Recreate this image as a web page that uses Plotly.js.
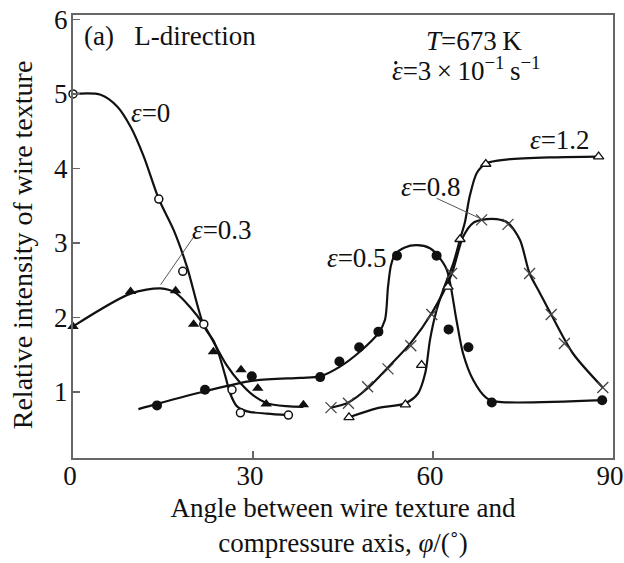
<!DOCTYPE html>
<html>
<head>
<meta charset="utf-8">
<script src="https://cdn.plot.ly/plotly-3.0.1.min.js"></script>
<style>html,body{margin:0;padding:0;background:#fff;}#chart{width:624px;height:563px;}</style>
</head>
<body>
<div id="chart"></div>
<script>
// ---- Data ----
// eps = 0 (open circles)
const e0X = [0, 14.3, 18.3, 21.8, 26.5, 27.9, 35.9];
const e0Y = [5.0, 3.59, 2.62, 1.91, 1.03, 0.72, 0.69];
const e0CurveX = [0, 4.6, 7.4, 9.6, 11.8, 14.3, 16.8, 19.0, 21.8, 23.4, 24.3, 25.4, 26.2, 27.3, 29.0, 32.3, 35.9];
const e0CurveY = [5.0, 4.99, 4.83, 4.56, 4.16, 3.59, 3.17, 2.68, 1.89, 1.69, 1.51, 1.21, 0.98, 0.81, 0.74, 0.71, 0.69];

// eps = 0.3 (filled triangles)
const e03X = [0, 9.6, 17.1, 20.1, 23.4, 28.0, 30.8, 32.2, 38.4];
const e03Y = [1.88, 2.35, 2.36, 1.91, 1.54, 1.30, 1.05, 0.84, 0.83];
const e03CurveX = [0, 9.6, 14.6, 17.1, 19.5, 21.8, 23.7, 25.6, 27.9, 30.1, 32.3, 35.6, 38.4];
const e03CurveY = [1.88, 2.32, 2.39, 2.33, 2.14, 1.90, 1.63, 1.36, 1.12, 0.95, 0.85, 0.81, 0.80];

// eps = 0.5 (filled circles)
const e05X = [14.0, 22.0, 29.8, 41.2, 44.4, 47.7, 50.9, 54.0, 60.6, 62.6, 65.9, 69.8, 88.2];
const e05Y = [0.82, 1.03, 1.21, 1.20, 1.41, 1.60, 1.81, 2.83, 2.83, 1.84, 1.60, 0.86, 0.89];
const e05CurveX = [10.9, 14.0, 22.0, 29.8, 37.9, 41.2, 44.5, 47.8, 50.9, 52.0, 52.5, 53.0, 53.7, 55.3, 57.3, 59.5, 60.6, 62.3, 63.9, 65.0, 66.7, 68.9, 70.6, 88.3];
const e05CurveY = [0.77, 0.84, 1.01, 1.15, 1.19, 1.21, 1.34, 1.54, 1.79, 1.97, 2.41, 2.70, 2.85, 2.94, 2.97, 2.93, 2.85, 2.64, 1.97, 1.52, 1.16, 0.92, 0.87, 0.89];

// eps = 0.8 (crosses)
const e08X = [43.0, 45.9, 49.1, 52.5, 56.3, 59.8, 63.1, 68.1, 72.5, 76.1, 79.7, 81.9, 88.3];
const e08Y = [0.79, 0.85, 1.07, 1.31, 1.62, 2.04, 2.59, 3.31, 3.25, 2.59, 2.04, 1.65, 1.06];
const e08CurveX = [43.0, 45.9, 49.1, 52.5, 56.3, 59.8, 63.1, 65.0, 66.7, 68.1, 70.6, 72.5, 74.5, 76.1, 77.8, 79.7, 83.3, 88.3];
const e08CurveY = [0.79, 0.86, 1.05, 1.33, 1.66, 2.06, 2.58, 3.08, 3.27, 3.31, 3.32, 3.27, 3.04, 2.59, 2.33, 2.04, 1.52, 1.06];

// eps = 1.2 (open triangles)
const e12X = [46.0, 55.4, 58.1, 62.5, 64.5, 68.8, 87.6];
const e12Y = [0.66, 0.83, 1.36, 2.41, 3.05, 4.06, 4.16];
const e12CurveX = [46.0, 50.6, 55.4, 57.5, 58.7, 59.5, 60.6, 61.7, 63.4, 64.5, 65.3, 66.1, 67.3, 68.9, 72.2, 80.0, 87.6];
const e12CurveY = [0.66, 0.78, 0.85, 0.98, 1.25, 1.70, 2.10, 2.37, 2.73, 3.05, 3.27, 3.62, 3.94, 4.07, 4.12, 4.15, 4.16];

const xTicks = [0, 30, 60, 90];
const yTicks = [1, 2, 3, 4, 5, 6];

// ---- Plot ----
const FONT = '"Liberation Serif", "Times New Roman", serif';
const curveLine = {color: '#111', width: 2.2, shape: 'spline', smoothing: 0.8};

function curve(x, y) {
  return {x: x, y: y, mode: 'lines', line: curveLine, hoverinfo: 'skip', showlegend: false};
}
function pts(x, y, marker) {
  return {x: x, y: y, mode: 'markers', marker: marker, cliponaxis: false, showlegend: false};
}

const traces = [
  curve(e0CurveX, e0CurveY),
  curve(e03CurveX, e03CurveY),
  curve(e05CurveX, e05CurveY),
  curve(e08CurveX, e08CurveY),
  curve(e12CurveX, e12CurveY),
  pts(e0X, e0Y, {symbol: 'circle', size: 8, color: '#fff', line: {color: '#111', width: 1.5}}),
  pts(e03X, e03Y, {symbol: 'triangle-up', size: 10, color: '#111', line: {width: 0}}),
  pts(e05X, e05Y, {symbol: 'circle', size: 10, color: '#111', line: {width: 0}}),
  pts(e08X, e08Y, {symbol: 'x-thin', size: 11, color: '#333', line: {color: '#444', width: 1.3}}),
  pts(e12X, e12Y, {symbol: 'triangle-up', size: 9, color: '#fff', line: {color: '#111', width: 1.3}})
];

const aFont = {family: FONT, size: 27, color: '#111'};
function lab(x, y, text) {
  return {x: x, y: y, text: text, showarrow: false, font: aFont, xanchor: 'center', yanchor: 'middle'};
}
const annotations = [
  {x: 0.017, y: 0.992, xref: 'paper', yref: 'paper', xanchor: 'left', yanchor: 'top',
   text: '(a)\u00a0\u00a0\u00a0L-direction', showarrow: false, font: aFont},
  lab(12.9, 4.74, '<i>ε</i>=0'),
  lab(24.9, 3.17, '<i>ε</i>=0.3'),
  lab(47.4, 2.80, '<i>ε</i>=0.5'),
  lab(59.6, 3.75, '<i>ε</i>=0.8'),
  lab(81.2, 4.38, '<i>ε</i>=1.2'),
  lab(66.9, 5.71, '<i>T</i>=673\u2009K'),
  lab(65.5, 5.34, '<i>ε</i>=3\u2009\u00d7\u200910<sup>\u22121</sup>\u2009s<sup>\u22121</sup>'),
  // y-axis title
  {x: -0.092, y: 0.481, xref: 'paper', yref: 'paper', xanchor: 'center', yanchor: 'middle',
   textangle: -90, text: 'Relative intensity of wire texture', showarrow: false,
   font: {family: FONT, size: 28, color: '#111'}}
];

const shapes = [
  {type: 'line', xref: 'x', yref: 'y', x0: 14.6, y0: 2.44, x1: 20.1, y1: 3.08, line: {color: '#555', width: 1}},
  {type: 'line', xref: 'x', yref: 'y', x0: 60.6, y0: 3.60, x1: 68.1, y1: 3.32, line: {color: '#555', width: 1}},
  // dot accent of the strain-rate symbol
  {type: 'circle', xref: 'x', yref: 'y', xsizemode: 'pixel', ysizemode: 'pixel',
   xanchor: 53.8, yanchor: 5.42, x0: -1.7, x1: 1.7, y0: -1.7, y1: 1.7,
   fillcolor: '#111', line: {width: 0}}
];

const layout = {
  width: 624, height: 563,
  margin: {l: 72.5, r: 11, t: 15, b: 105},
  paper_bgcolor: '#fff', plot_bgcolor: '#fff',
  font: {family: FONT, size: 27, color: '#111'},
  xaxis: {
    range: [0, 90], tickvals: xTicks, ticktext: xTicks.map(String),
    ticks: 'inside', ticklen: 7, tickwidth: 1.5, tickcolor: '#666',
    showline: true, linecolor: '#666', linewidth: 2, mirror: true,
    showgrid: false, zeroline: false, ticklabeloverflow: 'allow',
    ticklabelstandoff: -7, ticklabelshift: -3,
    tickfont: {family: FONT, size: 27, color: '#111'},
    title: {text: 'Angle between wire texture and<br>compressure axis, <i>φ</i>/(\u02da)', font: {family: FONT, size: 27, color: '#111'}, standoff: 8}
  },
  yaxis: {
    range: [0.114, 6.06], tickvals: yTicks, ticktext: yTicks.map(String),
    ticks: 'inside', ticklen: 7, tickwidth: 1.5, tickcolor: '#666',
    showline: true, linecolor: '#666', linewidth: 2, mirror: true,
    showgrid: false, zeroline: false, ticklabelstandoff: -2,
    tickfont: {family: FONT, size: 27, color: '#111'}
  },
  annotations: annotations,
  shapes: shapes
};

Plotly.newPlot('chart', traces, layout, {staticPlot: true, displayModeBar: false});
</script>
</body>
</html>
